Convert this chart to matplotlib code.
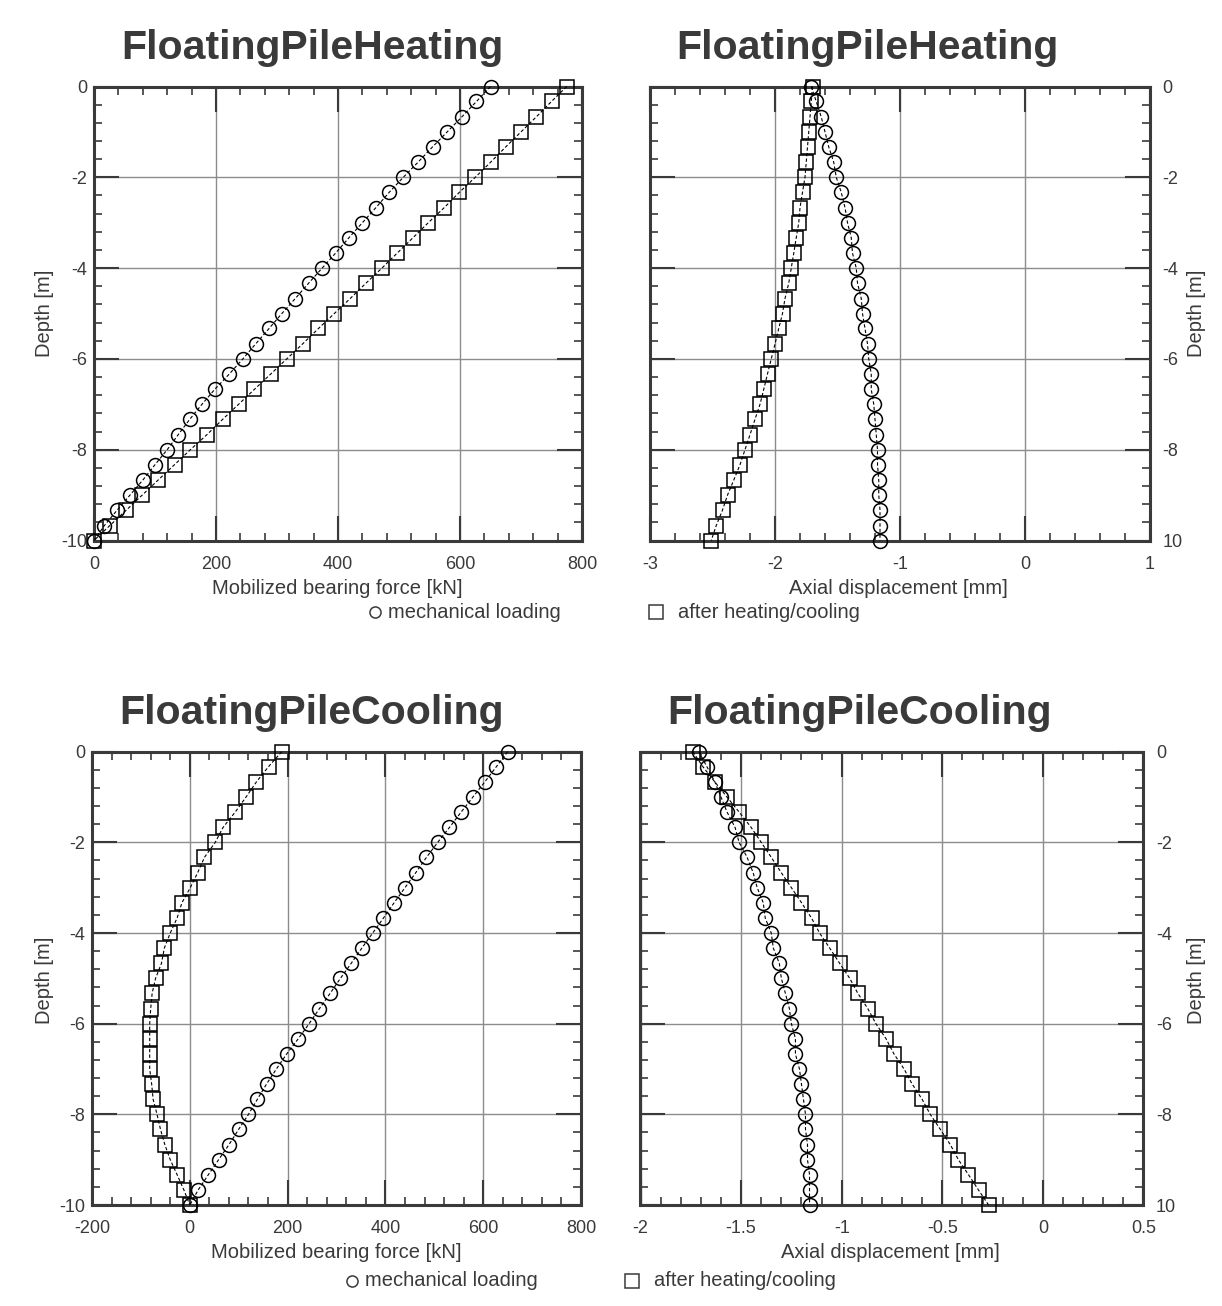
import matplotlib
matplotlib.use("Agg")
import matplotlib.pyplot as plt
from matplotlib.ticker import MultipleLocator
from matplotlib.lines import Line2D

plt.rcParams['font.family'] = ['Liberation Sans', 'DejaVu Sans']

# ---------------- data ----------------
depth = [0, -0.33, -0.67, -1, -1.33, -1.67, -2, -2.33, -2.67, -3, -3.33, -3.67,
         -4, -4.33, -4.67, -5, -5.33, -5.67, -6, -6.33, -6.67, -7, -7.33, -7.67,
         -8, -8.33, -8.67, -9, -9.33, -9.67, -10]

# Mobilized bearing force [kN]
force_mech = [650, 627, 603, 579, 555, 531, 507, 484, 462, 440, 418, 396,
              374, 352, 330, 308, 287, 265, 244, 222, 198, 177, 157, 138,
              120, 100, 80, 59, 38, 17, 0]
force_heat = [775, 750, 725, 700, 675, 650, 625, 599, 574, 548, 523, 497,
              472, 446, 420, 394, 368, 342, 316, 290, 263, 237, 211, 185,
              158, 132, 105, 79, 53, 26, 0]
force_cool = [188, 161, 136, 115, 93, 68, 52, 30, 16, 1, -16, -26,
              -40, -52, -58, -70, -77, -80, -82, -82, -82, -82, -78, -75,
              -67, -60, -51, -40, -26, -12, 0]

# Axial displacement [mm]
disp_mech = [-1.71, -1.67, -1.63, -1.60, -1.57, -1.53, -1.51, -1.47, -1.44, -1.42, -1.39, -1.38,
             -1.35, -1.34, -1.31, -1.30, -1.28, -1.26, -1.25, -1.23, -1.23, -1.21, -1.20, -1.19,
             -1.18, -1.18, -1.17, -1.17, -1.16, -1.16, -1.16]
disp_heat = [-1.70, -1.71, -1.72, -1.73, -1.74, -1.75, -1.76, -1.78, -1.80, -1.81, -1.83, -1.85,
             -1.87, -1.89, -1.92, -1.94, -1.97, -2.00, -2.03, -2.06, -2.09, -2.12, -2.16, -2.20,
             -2.24, -2.28, -2.33, -2.38, -2.42, -2.47, -2.51]
disp_cool = [-1.74, -1.69, -1.63, -1.57, -1.51, -1.45, -1.40, -1.35, -1.30, -1.25, -1.20, -1.15,
             -1.11, -1.06, -1.01, -0.96, -0.92, -0.87, -0.83, -0.78, -0.74, -0.69, -0.65, -0.60,
             -0.56, -0.51, -0.46, -0.42, -0.37, -0.32, -0.27]

depth_ticks = [0, -2, -4, -6, -8, -10]
left_depth_labels = ['0', '-2', '-4', '-6', '-8', '-10']
right_depth_labels = ['0', '-2', '-4', '-6', '-8', '10']

titles = ['FloatingPileHeating', 'FloatingPileHeating', 'FloatingPileCooling', 'FloatingPileCooling']
xlabel_force = 'Mobilized bearing force [kN]'
xlabel_disp = 'Axial displacement [mm]'
ylabel = 'Depth [m]'
legend_mech = 'mechanical loading'
legend_after = 'after heating/cooling'

# ---------------- figure ----------------
W, H = 1222, 1306
fig = plt.figure(figsize=(W / 100, H / 100), dpi=100)
fig.patch.set_facecolor('white')

def px(x, y):
    return x / W, 1 - y / H

DARK = '#3a3a3a'
GRID = '#8c8c8c'
FS_TICK = 13
FS_LAB = 14.5

def make_axes(l, t, r, b):
    return fig.add_axes([l / W, 1 - b / H, (r - l) / W, (b - t) / H])

def style(ax, xlim, xmajor, xminor, right_labels):
    ax.set_xlim(*xlim)
    ax.set_ylim(-10, 0)
    ax.xaxis.set_major_locator(MultipleLocator(xmajor))
    ax.xaxis.set_minor_locator(MultipleLocator(xminor))
    ax.yaxis.set_minor_locator(MultipleLocator(0.4))
    if right_labels:
        ax.set_yticks(depth_ticks, labels=right_depth_labels)
    else:
        ax.set_yticks(depth_ticks, labels=left_depth_labels)
    ax.xaxis.set_major_formatter(matplotlib.ticker.FuncFormatter(lambda v, p: '%g' % round(v, 6)))
    ax.grid(which='major', color=GRID, lw=1.0)
    ax.set_axisbelow(True)
    ax.tick_params(which='both', direction='in', top=True, right=True, bottom=True, left=True,
                   color=DARK, labelcolor=DARK, labelsize=FS_TICK)
    ax.tick_params(which='major', length=18, width=1.5)
    ax.tick_params(which='minor', length=6, width=1.2)
    ax.tick_params(axis='x', which='major', pad=11)
    ax.tick_params(axis='y', which='major', pad=5)
    if right_labels:
        ax.tick_params(axis='y', labelleft=False, labelright=True, pad=9)
    for s in ax.spines.values():
        s.set_linewidth(2.2)
        s.set_color(DARK)

def plot_series(ax, x, marker, ms):
    ax.plot(x, depth, ls=(0, (3, 2)), lw=0.8, color='black', marker=marker, ms=ms,
            mfc='none', mec='black', mew=1.1, clip_on=False, zorder=3)

# top-left
ax1 = make_axes(94, 86.5, 582, 540.5)
style(ax1, (0, 800), 200, 40, False)
plot_series(ax1, force_mech, 'o', 10)
plot_series(ax1, force_heat, 's', 10)

# top-right
ax2 = make_axes(650, 86.5, 1150, 540.5)
style(ax2, (-3, 1), 1, 0.2, True)
plot_series(ax2, disp_mech, 'o', 10)
plot_series(ax2, disp_heat, 's', 10)

# bottom-left
ax3 = make_axes(92, 751.7, 581, 1205)
style(ax3, (-200, 800), 200, 40, False)
plot_series(ax3, force_mech, 'o', 10)
plot_series(ax3, force_cool, 's', 10)

# bottom-right
ax4 = make_axes(640.5, 751.7, 1143.5, 1205)
style(ax4, (-2, 0.5), 0.5, 0.1, True)
plot_series(ax4, disp_mech, 'o', 10)
plot_series(ax4, disp_cool, 's', 10)

# titles
for (x, y), t in zip([(312, 48), (867, 48), (311, 713), (860, 713)], titles):
    fig.text(*px(x, y), t, ha='center', va='center', fontsize=29.5, fontweight='bold', color=DARK)

# x labels
fig.text(*px(337, 588), xlabel_force, ha='center', va='center', fontsize=FS_LAB, color=DARK)
fig.text(*px(898, 588), xlabel_disp, ha='center', va='center', fontsize=FS_LAB, color=DARK)
fig.text(*px(336, 1253), xlabel_force, ha='center', va='center', fontsize=FS_LAB, color=DARK)
fig.text(*px(890, 1253), xlabel_disp, ha='center', va='center', fontsize=FS_LAB, color=DARK)

# y labels
for (x, y) in [(45, 313), (1197, 313), (45, 980), (1197, 980)]:
    fig.text(*px(x, y), ylabel, ha='center', va='center', rotation=90, fontsize=FS_LAB, color=DARK)

# legends
def legend_item(xm, xt, y, marker, ms, label):
    fx, fy = px(xm, y)
    fig.add_artist(Line2D([fx], [fy], transform=fig.transFigure, marker=marker, ms=ms,
                          mfc='none', mec=DARK, mew=1.1, ls='none'))
    fig.text(*px(xt, y), label, ha='left', va='center', fontsize=FS_LAB, color=DARK)

legend_item(375, 388, 612, 'o', 8, legend_mech)
legend_item(656, 678, 612, 's', 9.5, legend_after)
legend_item(352, 365, 1281, 'o', 8, legend_mech)
legend_item(632, 654, 1281, 's', 9.5, legend_after)

fig.savefig('out.png', dpi=100, facecolor='white')
